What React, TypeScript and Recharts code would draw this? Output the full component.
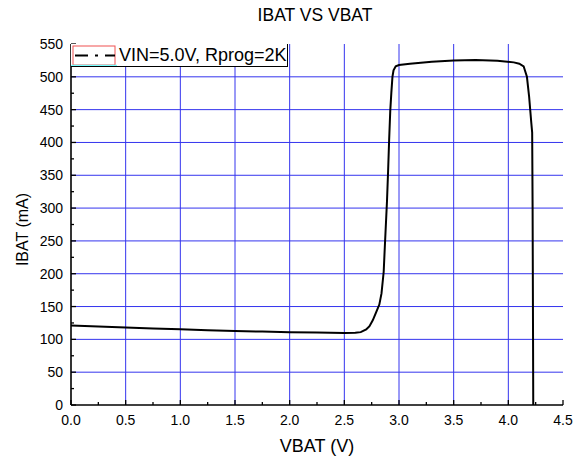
import React from 'react';
import { LineChart, Line, XAxis, YAxis, ReferenceLine, Legend } from 'recharts';

// Charge curve
const vbat = [
  0.0, 0.25, 0.5, 0.75, 1.0, 1.25, 1.5, 1.75, 2.0, 2.25, 2.5, 2.6, 2.65, 2.7, 2.73, 2.76, 2.78, 2.8, 2.82,
  2.84, 2.86, 2.87, 2.88, 2.89, 2.9, 2.91, 2.92, 2.93, 2.94, 2.95, 2.97, 3.0, 3.1, 3.3, 3.5, 3.7, 3.9, 4.05,
  4.1, 4.14, 4.17, 4.19, 4.21, 4.218, 4.222, 4.226, 4.228,
];
const ibat = [
  121, 119.5, 118, 116.5, 115.3, 114, 112.8, 111.8, 110.9, 110.3, 109.8, 110, 111, 115, 120, 129, 137, 145, 153,
  170, 203, 240, 275, 310, 355, 405, 448, 476, 500, 510, 516, 518, 520, 523, 525, 525.5, 524.5, 522,
  520, 516, 500, 470, 430, 415, 300, 100, 0,
];

const xMajor = [0, 0.5, 1, 1.5, 2, 2.5, 3, 3.5, 4, 4.5];
const xMinor = [0.25, 0.75, 1.25, 1.75, 2.25, 2.75, 3.25, 3.75, 4.25];
const yMajor = [0, 50, 100, 150, 200, 250, 300, 350, 400, 450, 500, 550];
const yMinor = [25, 75, 125, 175, 225, 275, 325, 375, 425, 475, 525];
const xGrid = [0.5, 1, 1.5, 2, 2.5, 3, 3.5, 4];
const yGrid = [50, 100, 150, 200, 250, 300, 350, 400, 450, 500];

const seriesName = 'VIN=5.0V, Rprog=2K';

const data = vbat.map((v, i) => ({ vbat: v, ibat: ibat[i] }));

const FONT = '"Liberation Sans", Arial, sans-serif';
const GRID = '#3434ee';

const XTick = (props: any) => {
  const { x, y, payload } = props;
  const major = xMajor.includes(payload.value);
  return (
    <g>
      <line x1={x} x2={x} y1={y} y2={y - (major ? 5 : 3)} stroke="#000" strokeWidth={1.3} />
      {major && (
        <text x={x} y={y + 20} textAnchor="middle" fontSize={14} fontFamily={FONT} fill="#000">
          {payload.value.toFixed(1)}
        </text>
      )}
    </g>
  );
};

const YTick = (props: any) => {
  const { x, y, payload } = props;
  const major = yMajor.includes(payload.value);
  return (
    <g>
      <line x1={x} x2={x + (major ? 5 : 3)} y1={y} y2={y} stroke="#000" strokeWidth={1.3} />
      {major && (
        <text x={x - 8} y={y + 5} textAnchor="end" fontSize={14} fontFamily={FONT} fill="#000">
          {payload.value}
        </text>
      )}
    </g>
  );
};

const LegendBox = () => (
  <div
    style={{
      display: 'flex',
      alignItems: 'center',
      border: '1px solid #000',
      borderTop: 'none',
      borderLeft: 'none',
      height: 22,
      background: '#fff',
      fontFamily: FONT,
      fontSize: 18,
      color: '#000',
      paddingRight: 1,
    }}
  >
    <svg width={46} height={22} style={{ display: 'block' }}>
      <rect x={2} y={2} width={42} height={19} fill="none" stroke="#f05050" strokeWidth={1} />
      <line x1={0} x2={46} y1={21.5} y2={21.5} stroke="#7ff" strokeWidth={1.5} />
      <line x1={4} x2={44} y1={11.5} y2={11.5} stroke="#000" strokeWidth={2} strokeDasharray="13 7 3 7" />
    </svg>
    <span style={{ marginLeft: 2, whiteSpace: 'nowrap' }}>{seriesName}</span>
  </div>
);

export default function App() {
  return (
    <div style={{ position: 'absolute', left: 0, top: 0, width: 576, height: 457, background: '#fff' }}>
      <div
        style={{
          position: 'absolute',
          top: 5,
          left: 0,
          width: 630,
          textAlign: 'center',
          fontFamily: FONT,
          fontSize: 17.5,
          color: '#000',
        }}
      >
        IBAT VS VBAT
      </div>
      <LineChart width={576} height={457} data={data} margin={{ top: 44, right: 13, bottom: 0, left: 0 }}>
        {xGrid.map((v) => (
          <ReferenceLine key={'gx' + v} x={v} stroke={GRID} strokeWidth={1} />
        ))}
        {yGrid.map((v) => (
          <ReferenceLine key={'gy' + v} y={v} stroke={GRID} strokeWidth={1} />
        ))}
        <XAxis
          dataKey="vbat"
          type="number"
          domain={[0, 4.5]}
          ticks={[...xMajor, ...xMinor].sort((a, b) => a - b)}
          interval={0}
          height={52}
          tickSize={0}
          tickMargin={0}
          tickLine={false}
          tick={<XTick />}
          axisLine={{ stroke: '#000', strokeWidth: 1.6 }}
          allowDataOverflow
          label={{
            value: 'VBAT (V)',
            position: 'insideBottom',
            offset: 5,
            fontSize: 18,
            fontFamily: FONT,
            fill: '#000',
          }}
        />
        <XAxis
          xAxisId="top"
          orientation="top"
          type="number"
          domain={[0, 4.5]}
          height={0}
          tick={false}
          tickLine={false}
          axisLine={{ stroke: '#000', strokeWidth: 1.6 }}
        />
        <YAxis
          type="number"
          domain={[0, 550]}
          ticks={[...yMajor, ...yMinor].sort((a, b) => a - b)}
          interval={0}
          width={71}
          tickSize={0}
          tickMargin={0}
          tickLine={false}
          tick={<YTick />}
          axisLine={{ stroke: '#000', strokeWidth: 1.6 }}
          allowDataOverflow
          label={{
            value: 'IBAT (mA)',
            angle: -90,
            position: 'insideLeft',
            offset: 22,
            dy: 5,
            textAnchor: 'middle',
            fontSize: 16,
            fontFamily: FONT,
            fill: '#000',
          }}
        />
        <YAxis
          yAxisId="right"
          orientation="right"
          type="number"
          domain={[0, 550]}
          width={0}
          tick={false}
          tickLine={false}
          axisLine={{ stroke: '#000', strokeWidth: 1.6 }}
        />
        <Legend
          layout="horizontal"
          verticalAlign="middle"
          align="center"
          content={<LegendBox />}
          wrapperStyle={{ top: 44, left: 71, width: 'auto' }}
        />
        <Line
          dataKey="ibat"
          name={seriesName}
          type="linear"
          stroke="#000"
          strokeWidth={2}
          dot={false}
          isAnimationActive={false}
        />
      </LineChart>
    </div>
  );
}
